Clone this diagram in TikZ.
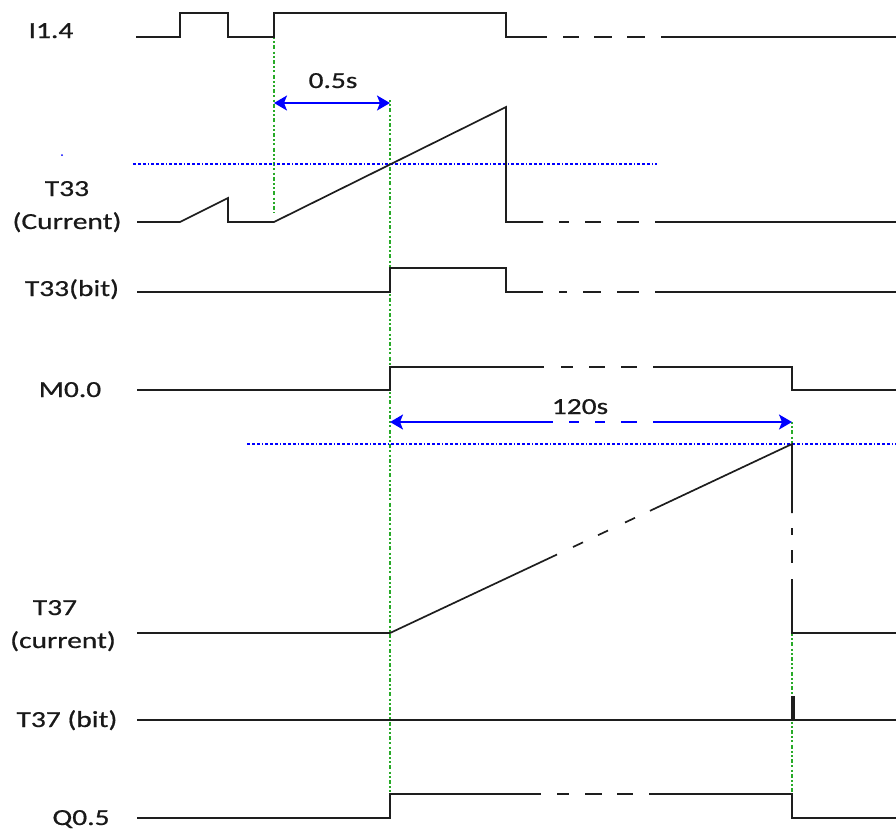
\documentclass[tikz,border=0pt]{standalone}
\usepackage{fontspec}
\setmainfont{Carlito}
\newfontfamily\lblfont{Carlito}[FakeBold=0.6]
\usepackage{graphicx}
\usetikzlibrary{arrows.meta}
\definecolor{guidegreen}{RGB}{40,170,40}
\definecolor{sigcol}{RGB}{30,30,30}
\newcommand\widetext[1]{\scalebox{1.28}[1]{#1}}
\tikzset{
  sig/.style={line width=1.7pt, draw=sigcol, line join=miter},
  guide/.style={line width=1.5pt, draw=guidegreen, dash pattern=on 2pt off 2.2pt on 2pt off 2.2pt on 4pt off 2.2pt},
  level/.style={line width=1.3pt, draw=blue, dash pattern=on 3pt off 2pt on 3pt off 2pt on 3pt off 2pt on 1pt off 2pt},
  dimline/.style={line width=1.6pt, draw=blue},
  tip/.tip={Stealth[length=13pt,width=15pt,inset=3pt]},
  lbl/.style={inner sep=0pt, anchor=base, font=\lblfont\fontsize{23}{27}\selectfont, text=black!90},
}
\begin{document}
\begin{tikzpicture}[x=1pt,y=-1pt]
\useasboundingbox (0,0) rectangle (896,831);

% labels
\node[lbl] (l14) at (51,38) {\widetext{I1.4}};
\node[lbl] (lt33) at (67,196) {\widetext{T33}};
\node[lbl] (lt33c) at (67,229) {\widetext{(Current)}};
\node[lbl] (lt33b) at (72,296) {\widetext{T33(bit)}};
\node[lbl] (lm00) at (70,397) {\widetext{M0.0}};
\node[lbl] (lt37) at (55,615) {\widetext{T37}};
\node[lbl] (lt37c) at (63,648) {\widetext{(current)}};
\node[lbl] (lt37b) at (67,727) {\widetext{T37 (bit)}};
\node[lbl] (lq05) at (81,825) {\widetext{Q0.5}};
\node[lbl] (lhalf) at (333,88) {\widetext{0.5s}};
\node[lbl] (l120) at (580,414) {\widetext{120s}};

% stray dot
\fill[blue] (62,155) circle (1pt);

% guides
\draw[guide] (274,37) -- (274,213);
\draw[guide] (390,100) -- (390,794);
\draw[guide] (792,422) -- (792,444);
\draw[guide] (792,634) -- (792,794);

% level lines
\draw[level] (133,164) -- (657,164);
\draw[level] (247,444) -- (896,444);

% dimension arrows
\coordinate (h1) at (274,103);
\coordinate (h2) at (390,103);
\draw[dimline, tip-tip] (h1) -- (h2);
\coordinate (t1) at (390,422);
\coordinate (t2) at (792,422);
\draw[dimline, tip-] (t1) -- (553,422);
\draw[dimline] (569,422) -- (579,422) (595,422) -- (605,422) (621,422) -- (637,422);
\draw[dimline, -tip] (653,422) -- (t2);

% I1.4
\draw[sig] (136,37) -- (180,37) -- (180,13) -- (228,13) -- (228,37) -- (274,37) -- (274,13) -- (506,13) -- (506,37) -- (547,37);
\draw[sig] (563,37) -- (579,37) (594,37) -- (612,37) (627,37) -- (645,37) (661,37) -- (896,37);

% T33 current
\draw[sig] (137,222) -- (180,222) -- (228,198) -- (228,222) -- (274,222) -- (506,107) -- (506,222) -- (543,222);
\draw[sig] (559,222) -- (569,222) (585,222) -- (601,222) (617,222) -- (639,222) (655,222) -- (896,222);

% T33 bit
\draw[sig] (137,292) -- (390,292) -- (390,268) -- (506,268) -- (506,292) -- (543,292);
\draw[sig] (559,292) -- (567,292) (583,292) -- (601,292) (617,292) -- (639,292) (655,292) -- (896,292);

% M0.0
\draw[sig] (137,390) -- (390,390) -- (390,367) -- (544,367);
\draw[sig] (561,367) -- (573,367) (589,367) -- (605,367) (621,367) -- (637,367);
\draw[sig] (653,367) -- (792,367) -- (792,390) -- (896,390);

% T37 current
\draw[sig] (137,633) -- (390,633) -- (557,554.5);
\draw[sig] (573,547.0) -- (583,542.3) (598,535.2) -- (608,530.5) (625,522.5) -- (635,517.8);
\draw[sig] (650,510.8) -- (792,444) -- (792,513);
\draw[sig] (792,528) -- (792,535) (792,550) -- (792,563);
\draw[sig] (792,579) -- (792,633) -- (896,633);

% T37 bit
\draw[sig] (137,720) -- (896,720);
\draw[sig, line width=3.5pt, line cap=butt] (793,696) -- (793,720);

% Q0.5
\draw[sig] (137,818) -- (390,818) -- (390,794) -- (541,794);
\draw[sig] (557,794) -- (569,794) (585,794) -- (602,794) (617,794) -- (633,794);
\draw[sig] (649,794) -- (792,794) -- (792,818) -- (896,818);
\end{tikzpicture}
\end{document}
